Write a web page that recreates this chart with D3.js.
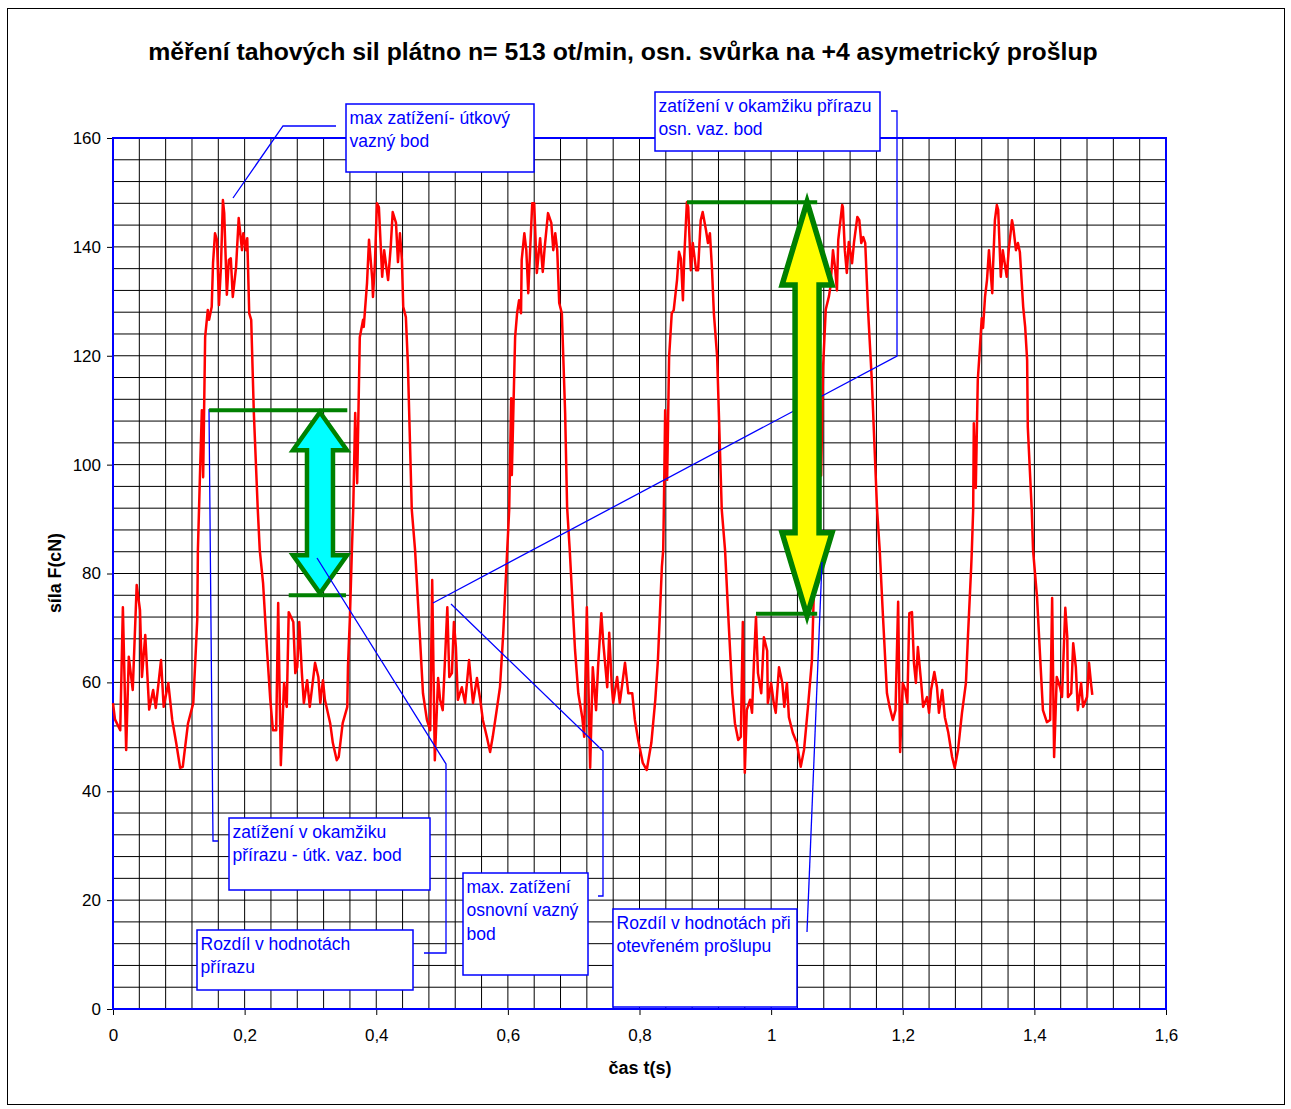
<!DOCTYPE html>
<html>
<head>
<meta charset="utf-8">
<script src="https://cdn.jsdelivr.net/npm/d3@7"></script>
<style>
  body { margin: 0; background: #fff; }
  text { font-family: Arial, "Liberation Sans", sans-serif; }
</style>
</head>
<body>
<svg id="chart" width="1291" height="1109"></svg>
<script>
// Measured warp tension over time: t in seconds, F in cN
const timeS = [
  0.000,0.003,0.011,0.015,0.020,0.024,0.030,0.036,0.041,0.044,0.049,0.055,0.061,0.065,0.073,0.077,0.084,0.090,0.096,0.102,
  0.106,0.114,0.122,0.128,0.129,0.132,0.135,0.137,0.140,0.144,0.146,0.150,0.152,0.155,0.158,0.161,0.164,0.167,0.169,0.173,
  0.176,0.179,0.182,0.187,0.191,0.196,0.198,0.202,0.204,0.207,0.210,0.214,0.220,0.223,0.228,0.234,0.239,0.243,0.248,0.251,
  0.255,0.260,0.264,0.267,0.274,0.277,0.280,0.283,0.287,0.290,0.295,0.299,0.307,0.312,0.315,0.319,0.322,0.330,0.334,0.340,
  0.343,0.349,0.356,0.357,0.360,0.363,0.365,0.368,0.371,0.375,0.380,0.381,0.386,0.389,0.394,0.395,0.398,0.401,0.404,0.409,
  0.412,0.416,0.418,0.422,0.425,0.430,0.433,0.436,0.439,0.441,0.445,0.448,0.454,0.459,0.466,0.471,0.477,0.482,0.485,0.489,
  0.494,0.497,0.501,0.508,0.511,0.515,0.518,0.521,0.524,0.530,0.535,0.541,0.547,0.553,0.558,0.562,0.568,0.573,0.577,0.583,
  0.588,0.593,0.597,0.599,0.602,0.605,0.606,0.611,0.614,0.617,0.620,0.621,0.625,0.628,0.631,0.632,0.637,0.640,0.644,0.649,
  0.653,0.656,0.661,0.666,0.669,0.672,0.675,0.678,0.682,0.687,0.690,0.694,0.702,0.707,0.713,0.716,0.720,0.725,0.729,0.734,
  0.737,0.742,0.745,0.751,0.754,0.758,0.760,0.766,0.770,0.778,0.783,0.789,0.793,0.798,0.805,0.811,0.818,0.824,0.828,0.834,
  0.836,0.837,0.839,0.842,0.845,0.849,0.852,0.857,0.860,0.863,0.866,0.868,0.872,0.874,0.878,0.881,0.886,0.889,0.893,0.896,
  0.901,0.904,0.907,0.910,0.913,0.918,0.925,0.930,0.935,0.941,0.945,0.950,0.954,0.957,0.960,0.963,0.968,0.971,0.974,0.977,
  0.980,0.985,0.989,0.994,0.995,1.000,1.004,1.007,1.012,1.017,1.020,1.024,1.027,1.033,1.039,1.045,1.050,1.056,1.062,1.065,
  1.068,1.071,1.073,1.076,1.079,1.083,1.088,1.090,1.094,1.097,1.100,1.102,1.108,1.109,1.112,1.115,1.118,1.123,1.126,1.131,
  1.134,1.137,1.140,1.143,1.147,1.153,1.161,1.165,1.170,1.176,1.180,1.185,1.189,1.193,1.196,1.200,1.204,1.207,1.210,1.214,
  1.217,1.220,1.223,1.228,1.231,1.237,1.240,1.243,1.248,1.252,1.255,1.260,1.264,1.269,1.275,1.279,1.284,1.290,1.296,1.299,
  1.304,1.305,1.307,1.308,1.311,1.314,1.317,1.320,1.322,1.325,1.328,1.331,1.333,1.336,1.337,1.340,1.343,1.345,1.349,1.352,
  1.358,1.361,1.366,1.368,1.372,1.375,1.378,1.383,1.386,1.389,1.390,1.396,1.398,1.404,1.409,1.413,1.419,1.424,1.427,1.430,
  1.434,1.439,1.442,1.447,1.450,1.451,1.456,1.459,1.463,1.466,1.471,1.474,1.480,1.483,1.486,1.488
];
const forceCN = [
  56.2,53.2,51.2,73.8,47.6,64.7,58.6,77.9,73.3,61.0,68.7,55.0,58.6,55.3,64.1,55.5,59.9,53.1,48.9,44.3,
  44.5,52.5,56.2,71.5,84.3,97.5,110.0,97.7,123.4,128.4,126.6,129.0,137.0,142.5,141.3,129.3,136.3,148.6,146.2,131.2,
  137.6,137.9,130.8,136.3,145.3,139.4,142.5,139.4,141.6,127.8,126.6,109.5,91.7,84.3,78.3,66.0,56.8,51.2,51.2,74.6,
  44.8,59.9,55.5,72.9,71.1,61.7,62.8,71.1,61.7,56.2,60.4,55.5,63.6,61.0,56.2,60.4,56.8,52.5,48.9,45.7,
  46.3,52.5,55.5,62.8,72.0,84.3,91.7,109.5,96.6,123.4,126.6,125.3,133.4,141.3,134.0,130.8,137.0,148.0,147.3,134.5,
  139.4,135.7,133.9,140.0,146.4,144.4,137.2,142.5,137.6,129.0,127.1,118.7,91.7,84.3,69.1,58.0,53.1,51.2,78.8,45.7,
  60.8,56.8,54.9,73.8,61.0,61.7,71.1,66.5,56.8,59.1,56.2,64.1,56.2,60.8,56.8,53.1,50.0,47.2,50.0,54.9,
  59.1,69.1,79.4,84.3,91.7,112.2,98.1,123.4,127.8,130.2,127.8,137.6,142.5,139.4,131.5,134.5,148.0,148.0,135.2,141.6,
  135.4,140.0,146.2,144.4,139.4,142.5,139.4,129.7,127.8,109.5,92.2,84.3,66.0,58.0,53.6,50.0,73.8,44.3,62.8,54.9,
  62.8,72.7,67.2,59.1,69.1,59.1,56.2,61.0,56.2,63.6,58.0,58.0,53.1,49.4,45.2,43.9,48.9,56.8,64.1,81.2,
  84.3,91.7,110.0,97.2,119.8,127.8,128.4,133.9,139.1,137.8,130.2,138.1,148.2,147.3,135.7,140.7,135.7,135.7,144.9,146.4,
  143.1,140.7,142.5,136.3,127.8,119.8,91.7,84.3,72.0,58.0,52.5,49.4,50.0,71.1,43.4,54.9,56.8,54.4,64.1,72.0,
  61.7,58.0,68.3,65.8,56.2,59.9,56.2,54.4,62.8,59.9,55.5,59.9,53.6,50.7,48.9,44.5,47.6,55.5,64.1,77.0,
  84.3,97.0,110.0,98.0,118.0,128.5,131.0,132.6,139.4,136.3,132.0,141.3,147.7,147.3,139.4,135.2,140.9,137.0,140.9,145.5,
  144.9,140.7,141.8,140.7,129.0,115.5,91.7,84.3,72.0,58.0,55.5,53.1,54.9,74.8,47.2,59.9,58.6,56.2,72.7,72.9,
  63.6,59.9,66.5,59.9,55.5,57.3,54.4,58.6,61.9,59.1,54.4,58.6,53.6,50.9,46.3,44.3,47.6,54.4,59.9,68.3,
  81.2,84.3,91.7,107.6,95.7,115.5,121.0,126.9,125.1,130.8,133.9,139.4,136.3,131.5,135.7,144.9,147.7,146.8,134.5,139.4,
  134.5,139.4,144.9,143.6,139.4,140.7,139.0,129.0,125.3,119.2,106.9,91.7,84.3,75.7,64.1,54.9,52.7,53.1,75.5,46.3,
  61.0,59.1,57.3,73.7,68.3,57.3,58.0,67.2,62.8,54.9,59.9,55.5,57.3,63.6,59.9,57.7
];

// Axis ticks
const xTickValues = [0, 0.2, 0.4, 0.6, 0.8, 1, 1.2, 1.4, 1.6];
const yTickValues = [0, 20, 40, 60, 80, 100, 120, 140, 160];

// Reference levels marked by the two double arrows
const strikeLevels = { top: 110, bottom: 76, t: 0.3145, lineTop: [0.146, 0.356], lineBottom: [0.267, 0.354] };
const shedLevels   = { top: 149, bottom: 71.5, t: 1.0546, lineTop: [0.872, 1.070], lineBottom: [0.977, 1.070], topLine: 148.2, bottomLine: 72.6 };

const svg = d3.select("#chart");
const plot = { left: 113, right: 1166, top: 138, bottom: 1009 };

const x = d3.scaleLinear().domain([0, 1.6]).range([plot.left, plot.right]);
const y = d3.scaleLinear().domain([0, 160]).range([plot.bottom, plot.top]);

const BLUE = "#0000ff", GREEN = "#008000";

// page frame
svg.append("rect").attr("x", 7.5).attr("y", 8.5).attr("width", 1277).attr("height", 1096)
  .attr("fill", "#fff").attr("stroke", "#000").attr("stroke-width", 1);

// title
svg.append("text").attr("x", 623).attr("y", 60).attr("text-anchor", "middle")
  .attr("font-size", 24.8).attr("font-weight", "bold")
  .text("měření tahových sil plátno n= 513 ot/min, osn. svůrka na +4 asymetrický prošlup");

// grid
const gridX = d3.range(1, 40).map(i => i * 0.04);
const gridY = d3.range(1, 40).map(i => i * 4);
const grid = svg.append("g");
grid.selectAll("line.gx").data(gridX).join("line")
  .attr("x1", d => x(d)).attr("x2", d => x(d)).attr("y1", plot.top).attr("y2", plot.bottom)
  .attr("stroke", "#000").attr("stroke-width", 1);
grid.selectAll("line.gy").data(gridY).join("line")
  .attr("y1", d => y(d)).attr("y2", d => y(d)).attr("x1", plot.left).attr("x2", plot.right)
  .attr("stroke", "#000").attr("stroke-width", 1);

// axes
const fmt = d => String(d).replace(".", ",");
const xAxis = svg.append("g").attr("transform", `translate(0,${plot.bottom})`)
  .call(d3.axisBottom(x).tickValues(xTickValues).tickFormat(fmt).tickSize(6).tickPadding(14));
const yAxis = svg.append("g").attr("transform", `translate(${plot.left},0)`)
  .call(d3.axisLeft(y).tickValues(yTickValues).tickSize(6).tickPadding(6));
[xAxis, yAxis].forEach(a => {
  a.select(".domain").remove();
  a.selectAll("text").attr("font-size", 17).attr("fill", "#000")
    .style("font-family", "Arial, 'Liberation Sans', sans-serif");
  a.selectAll("line").attr("stroke", "#000");
});

// plot border
svg.append("rect").attr("x", plot.left).attr("y", plot.top)
  .attr("width", plot.right - plot.left).attr("height", plot.bottom - plot.top)
  .attr("fill", "none").attr("stroke", BLUE).attr("stroke-width", 2);

// axis titles
svg.append("text").attr("transform", "translate(61,573) rotate(-90)").attr("text-anchor", "middle")
  .attr("font-size", 17.8).attr("font-weight", "bold").text("síla F(cN)");
svg.append("text").attr("x", 640).attr("y", 1074).attr("text-anchor", "middle")
  .attr("font-size", 18).attr("font-weight", "bold").text("čas t(s)");

// force trace
const pts = timeS.map((t, i) => [t, forceCN[i]]);
svg.append("path").datum(pts)
  .attr("d", d3.line().x(d => x(d[0])).y(d => y(d[1])))
  .attr("fill", "none").attr("stroke", "#ff0000").attr("stroke-width", 2.5)
  .attr("stroke-linejoin", "round");

// leader lines (drawn beneath the arrows)
function leader(points) {
  svg.append("polyline").attr("points", points.map(p => p.join(",")).join(" "))
    .attr("fill", "none").attr("stroke", BLUE).attr("stroke-width", 1.3);
}
leader([[891, 111], [897, 111], [897, 356], [433, 603]]);
leader([[233, 198], [283, 126], [336, 126]]);
leader([[209, 409], [213, 841], [218, 841]]);
leader([[598, 896], [603, 896], [603, 751], [451, 604]]);

// green level lines
function levelLine(t0, t1, f) {
  svg.append("line").attr("x1", x(t0)).attr("x2", x(t1)).attr("y1", y(f)).attr("y2", y(f))
    .attr("stroke", GREEN).attr("stroke-width", 4);
}
levelLine(strikeLevels.lineTop[0], strikeLevels.lineTop[1], strikeLevels.top);
levelLine(strikeLevels.lineBottom[0], strikeLevels.lineBottom[1], strikeLevels.bottom);
levelLine(shedLevels.lineTop[0], shedLevels.lineTop[1], shedLevels.topLine);
levelLine(shedLevels.lineBottom[0], shedLevels.lineBottom[1], shedLevels.bottomLine);

// double-headed vertical arrow
function doubleArrow(cx, yTop, yBot, headHalf, headLen, shaftHalf, fill, sw) {
  const p = [
    [cx, yTop], [cx + headHalf, yTop + headLen], [cx + shaftHalf, yTop + headLen],
    [cx + shaftHalf, yBot - headLen], [cx + headHalf, yBot - headLen], [cx, yBot],
    [cx - headHalf, yBot - headLen], [cx - shaftHalf, yBot - headLen],
    [cx - shaftHalf, yTop + headLen], [cx - headHalf, yTop + headLen]
  ];
  svg.append("polygon").attr("points", p.map(q => q.join(",")).join(" "))
    .attr("fill", fill).attr("stroke", GREEN).attr("stroke-width", sw).attr("stroke-linejoin", "miter");
}
doubleArrow(x(strikeLevels.t), y(strikeLevels.top) + 2, y(strikeLevels.bottom) - 2, 27, 38, 13, "#00ffff", 4.5);
doubleArrow(x(shedLevels.t), y(shedLevels.top) + 4, y(shedLevels.bottom) - 4, 25, 83, 12, "#ffff00", 5.5);

// leader lines drawn over the arrows
leader([[424, 953], [446, 953], [446, 764], [317, 558]]);
leader([[807, 932], [822, 562]]);

// annotation boxes
const notes = [
  { x: 346, y: 104, w: 188, h: 68, lines: ["max zatížení- útkový", "vazný bod"] },
  { x: 655, y: 92, w: 225, h: 59, lines: ["zatížení v okamžiku přírazu", "osn. vaz. bod"] },
  { x: 229, y: 818, w: 201, h: 72, lines: ["zatížení v okamžiku", "přírazu - útk. vaz. bod"] },
  { x: 197, y: 930, w: 216, h: 60, lines: ["Rozdíl v hodnotách", "přírazu"] },
  { x: 463, y: 873, w: 125, h: 102, lines: ["max. zatížení", "osnovní vazný", "bod"] },
  { x: 613, y: 909, w: 184, h: 98, lines: ["Rozdíl v hodnotách při", "otevřeném prošlupu"] }
];
const ng = svg.append("g").selectAll("g").data(notes).join("g")
  .attr("transform", d => `translate(${d.x},${d.y})`);
ng.append("rect").attr("width", d => d.w).attr("height", d => d.h)
  .attr("fill", "#fff").attr("stroke", BLUE).attr("stroke-width", 1.5);
ng.each(function (d) {
  d3.select(this).selectAll("text").data(d.lines).join("text")
    .attr("x", 3.5).attr("y", (l, i) => 20 + i * 23.3)
    .attr("font-size", 17.5).attr("fill", BLUE).text(l => l);
});
</script>
</body>
</html>
